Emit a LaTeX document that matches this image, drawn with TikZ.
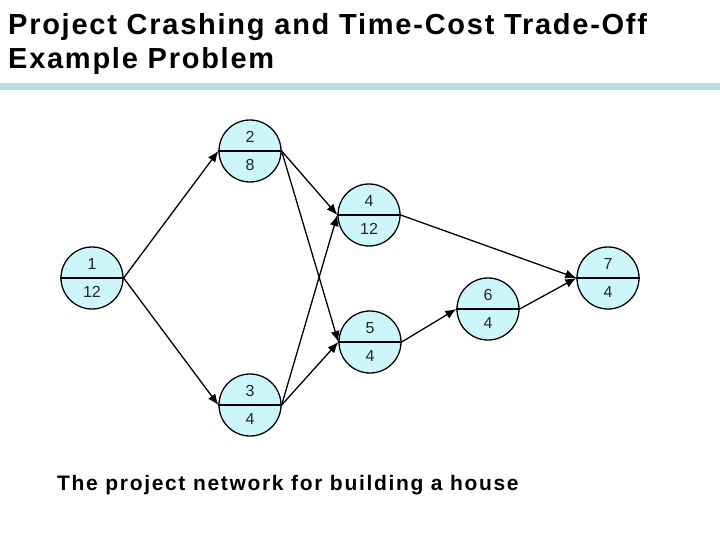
\documentclass[tikz,border=0pt]{standalone}
\usepackage{fontspec}
\setmainfont{Liberation Sans}
\newfontfamily\titlefont[LetterSpace=6]{Liberation Sans}
\newfontfamily\capfont[LetterSpace=8]{Liberation Sans}
\usetikzlibrary{arrows.meta}
\definecolor{nodefill}{HTML}{CCF6FA}
\definecolor{band}{HTML}{B7DFE0}
\tikzset{
  pcirc/.style={circle, draw=black, fill=nodefill, line width=1.3pt, minimum size=62pt, inner sep=0pt},
  plab/.style={inner sep=0pt, text=black!85, font=\fontsize{16}{18}\selectfont},
  conn/.style={line width=1.3pt, -{Latex[length=11pt,width=9pt]}},
}
\newcommand\pnode[5]{%
  \node[pcirc] (#1) at (#2,#3) {};
  \draw[line width=1.3pt] (#1.west) -- (#1.east);
  \node[plab] (#1t) at ([yshift=14pt]#1.center) {#4};
  \node[plab] (#1b) at ([yshift=-14pt]#1.center) {#5};
}
\begin{document}
\begin{tikzpicture}[x=1pt,y=-1pt]
\useasboundingbox (0,0) rectangle (720,540);
\fill[band] (0,83.5) rectangle (720,90);
\node[anchor=base west, inner sep=0pt, font=\titlefont\bfseries\fontsize{29}{34}\selectfont] (title1) at (8,35) {Project Crashing and Time-Cost Trade-Off};
\node[anchor=base west, inner sep=0pt, font=\titlefont\bfseries\fontsize{29}{34}\selectfont] (title2) at (8,69) {Example Problem};
\pnode{n1}{92}{278}{1}{12}
\pnode{n2}{250}{151}{2}{8}
\pnode{n3}{250}{405}{3}{4}
\pnode{n4}{369}{215}{4}{12}
\pnode{n5}{370}{342}{5}{4}
\pnode{n6}{488}{309}{6}{4}
\pnode{n7}{608}{278}{7}{4}
\draw[conn] (n1.east) -- (n2.west);
\draw[conn] (n1.east) -- (n3.west);
\draw[conn] (n2.east) -- (n4.west);
\draw[conn] (n2.east) -- (n5.west);
\draw[conn] (n3.east) -- (n4.west);
\draw[conn] (n3.east) -- (n5.west);
\draw[conn] (n4.east) -- (n7.west);
\draw[conn] (n5.east) -- (n6.west);
\draw[conn] (n6.east) -- (n7.west);
\node[anchor=base west, inner sep=0pt, font=\capfont\bfseries\fontsize{21}{25}\selectfont] (caption) at (57,490) {The project network for building a house};
\end{tikzpicture}
\end{document}
